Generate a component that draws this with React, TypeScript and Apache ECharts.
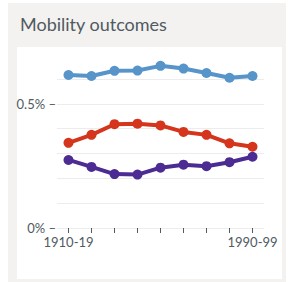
import React, { useEffect, useRef } from "react";
import * as echarts from "echarts";

const categories = ["1910-19", "1920-29", "1930-39", "1940-49", "1950-59", "1960-69", "1970-79", "1980-89", "1990-99"];
const blueValues = [0.616, 0.612, 0.633, 0.634, 0.653, 0.642, 0.624, 0.605, 0.612];
const redValues = [0.343, 0.375, 0.418, 0.42, 0.413, 0.387, 0.375, 0.341, 0.327];
const purpleValues = [0.274, 0.246, 0.217, 0.215, 0.243, 0.255, 0.249, 0.265, 0.287];
const yTickLabels: Record<string, string> = { "0": "0% –", "0.5": "0.5% –" };
const titleText = "Mobility outcomes";

export default function App() {
  const ref = useRef<HTMLDivElement>(null);
  useEffect(() => {
    if (!ref.current) return;
    const chart = echarts.init(ref.current, undefined, { renderer: "svg" });
    const font = "Lato";
    const mk = (data: number[], color: string) => ({
      type: "line",
      data,
      clip: false,
      symbol: "circle",
      symbolSize: 10,
      lineStyle: { color, width: 4 },
      itemStyle: { color },
      z: 3,
    });
    chart.setOption({
      animation: false,
      backgroundColor: "#ffffff",
      textStyle: { fontFamily: font },
      graphic: [
        { type: "rect", z: -10, shape: { x: 8, y: 3, width: 278, height: 282 }, style: { fill: "#f3f2f1" } },
        { type: "rect", z: -9, shape: { x: 17, y: 47, width: 265, height: 232 }, style: { fill: "#ffffff" } },
      ],
      title: {
        text: titleText,
        left: 15,
        top: 10,
        textStyle: { fontSize: 18, fontWeight: "normal", color: "#505a5f", fontFamily: font },
      },
      grid: { left: 57, right: 25, top: 79, bottom: 54 },
      xAxis: {
        type: "category",
        data: categories,
        boundaryGap: true,
        axisLine: { show: false },
        axisTick: { show: true, alignWithLabel: true, interval: 0, length: 5, lineStyle: { color: "#505a5f", width: 1 } },
        axisLabel: {
          interval: (i: number) => i === 0 || i === categories.length - 1,
          margin: 7,
          fontSize: 13,
          color: "#505a5f",
          fontFamily: font,
        },
      },
      yAxis: {
        type: "value",
        min: 0,
        max: 0.6,
        interval: 0.1,
        axisLine: { show: false },
        axisTick: { show: false },
        splitLine: { show: true, lineStyle: { color: "#ececec", width: 1 } },
        axisLabel: {
          margin: 1,
          fontSize: 13,
          color: "#505a5f",
          fontFamily: font,
          formatter: (v: number) => yTickLabels[String(Math.round(v * 10) / 10)] ?? "",
        },
      },
      series: [mk(blueValues, "#5694ca"), mk(redValues, "#d4351c"), mk(purpleValues, "#4c2c92")],
    });
    return () => chart.dispose();
  }, []);
  return <div ref={ref} style={{ position: "absolute", left: 0, top: 0, width: 289, height: 282 }} />;
}
